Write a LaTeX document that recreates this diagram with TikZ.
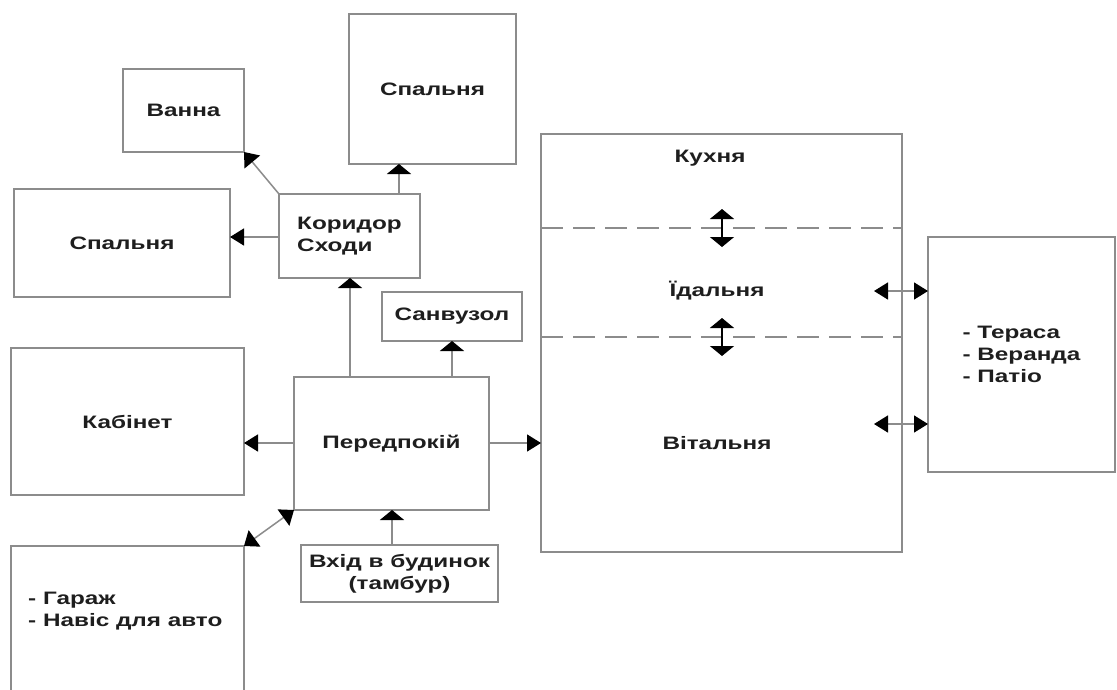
\documentclass[tikz,border=0pt]{standalone}
\usepackage{fontspec}
\setmainfont{Liberation Sans}[FakeStretch=1.35]
\usetikzlibrary{arrows.meta}
\definecolor{boxgray}{HTML}{8C8C8C}
\definecolor{txt}{HTML}{1E1E1E}
\tikzset{
  room/.style={draw=boxgray, line width=1.8pt, inner sep=0pt, outer sep=0pt,
    font=\fontsize{18}{22}\selectfont\bfseries, text=txt, align=center},
  lbl/.style={inner sep=0pt, font=\fontsize{18}{22}\selectfont\bfseries, text=txt, align=left},
  htip/.tip={Triangle[width=17pt,length=14pt,color=black]},
  vtip/.tip={Triangle[width=24pt,length=10pt,color=black]},
  dtip/.tip={Triangle[width=20pt,length=13pt,color=black]},
  hconn/.style={draw=boxgray, line width=1.5pt, -htip},
  vconn/.style={draw=boxgray, line width=1.5pt, -vtip},
  dconn/.style={draw=boxgray, line width=1.5pt, -dtip},
  hbconn/.style={draw=boxgray, line width=1.5pt, htip-htip},
  vbconn/.style={draw=black, line width=1.5pt, vtip-vtip},
  dbconn/.style={draw=boxgray, line width=1.5pt, dtip-dtip},
  dashline/.style={draw=boxgray, line width=1.5pt, dash pattern=on 22pt off 10pt}
}
\begin{document}
\begin{tikzpicture}[x=1pt,y=-1pt]
\useasboundingbox (0,0) rectangle (1117,689);
\clip (0,0) rectangle (1117,689);
\fill[white] (0,0) rectangle (1117,689);
% rooms
\node[room, minimum width=121pt, minimum height=83pt] (vanna) at (183.5,110.5) {Ванна};
\node[room, minimum width=167pt, minimum height=150pt] (spT) at (432.5,89) {Спальня};
\node[room, minimum width=141pt, minimum height=84pt, align=left] (kor) at (349.5,236) {Коридор\\Сходи};
\node[room, minimum width=216pt, minimum height=108pt] (spL) at (122,243) {Спальня};
\node[room, minimum width=140pt, minimum height=49pt] (sanv) at (452,316.5) {Санвузол};
\node[room, minimum width=233pt, minimum height=147pt] (kab) at (127.5,421.5) {Кабінет};
\node[room, minimum width=195pt, minimum height=133pt] (pered) at (391.5,443.5) {Передпокій};
\node[room, minimum width=197pt, minimum height=57pt] (vhid) at (399.5,573.5) {Вхід в будинок\\(тамбур)};
\node[room, minimum width=233pt, minimum height=200pt] (garage) at (127.5,646) {};
\node[lbl, anchor=west] (garlbl) at (28,611) {- Гараж\\- Навіс для авто};
\node[room, minimum width=361pt, minimum height=418pt] (big) at (721.5,343) {};
\node[lbl] (kuh) at (710,158) {Кухня};
\node[lbl] (idal) at (717,291) {Їдальня};
\node[lbl] (vital) at (717,443) {Вітальня};
\node[room, minimum width=187pt, minimum height=235pt, align=left] (ter) at (1021.5,354.5) {- Тераса\\- Веранда\\- Патіо};
% dashed dividers
\coordinate (d1) at (0,228);
\coordinate (d2) at (0,337);
\draw[dashline] (big.west |- d1) -- (big.east |- d1);
\draw[dashline] (big.west |- d2) -- (big.east |- d2);
% connector helper coordinates
\coordinate (xa) at (399,0);
\coordinate (xb) at (350,0);
\coordinate (xc) at (452,0);
\coordinate (xd) at (392,0);
\coordinate (ya) at (0,237);
\coordinate (yb) at (0,443);
\coordinate (k1) at (722,209);
\coordinate (k2) at (722,247);
\coordinate (k3) at (722,318);
\coordinate (k4) at (722,356);
\coordinate (t1) at (874,291);
\coordinate (t2) at (874,424);
\coordinate (y1) at (0,291);
\coordinate (y2) at (0,424);
% connectors
\draw[dconn] (kor.north west) -- (vanna.south east);
\draw[vconn] (kor.north -| xa) -- (spT.south -| xa);
\draw[hconn] (kor.west |- ya) -- (spL.east |- ya);
\draw[vconn] (pered.north -| xb) -- (kor.south -| xb);
\draw[vconn] (pered.north -| xc) -- (sanv.south -| xc);
\draw[hconn] (pered.west |- yb) -- (kab.east |- yb);
\draw[hconn] (pered.east |- yb) -- (big.west |- yb);
\draw[dbconn] (pered.south west) -- (garage.north east);
\draw[vconn] (vhid.north -| xd) -- (pered.south -| xd);
\draw[vbconn] (k1) -- (k2);
\draw[vbconn] (k3) -- (k4);
\draw[hbconn] (t1) -- (ter.west |- y1);
\draw[hbconn] (t2) -- (ter.west |- y2);
\end{tikzpicture}
\end{document}
